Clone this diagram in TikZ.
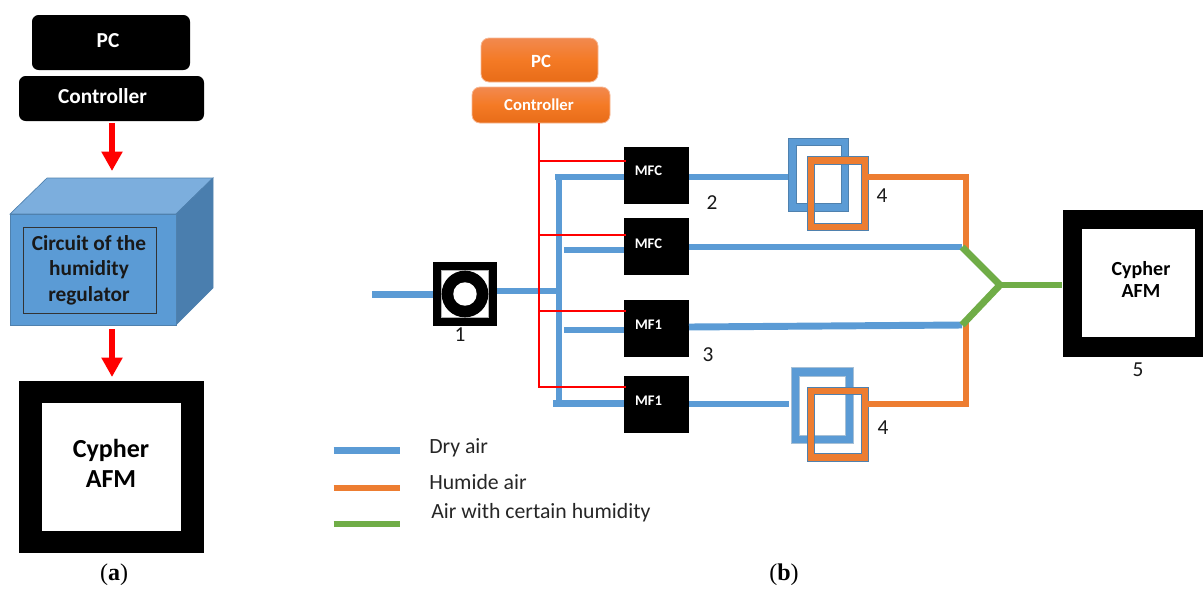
\documentclass[tikz,border=0pt]{standalone}
\usepackage{fontspec}
\setmainfont{Carlito}
\newfontfamily\capfont{Liberation Serif}
\usetikzlibrary{arrows.meta}
\definecolor{airblue}{HTML}{5B9BD5}
\definecolor{airorange}{HTML}{ED7D31}
\definecolor{airgreen}{HTML}{70AD47}
\definecolor{cubetop}{HTML}{7CAEDD}
\definecolor{cubeside}{HTML}{4A7EAE}
\definecolor{cubeedge}{HTML}{4F81AE}
\definecolor{gradtop}{HTML}{F2894F}
\definecolor{gradmid}{HTML}{F47A25}
\definecolor{gradbot}{HTML}{E86C18}
\newcommand{\fs}[2]{\fontsize{#1}{#2}\selectfont}
\tikzset{
  x=0.75pt,y=-0.75pt,
  blackbox/.style={fill=black,draw=none,rounded corners=5pt,inner sep=0pt},
  whitetext/.style={text=white,inner sep=0pt,font=\bfseries\fs{16}{19}},
  orangebox/.style={top color=gradtop,bottom color=gradbot,middle color=gradmid,draw=gradtop!60!white,line width=.6pt,rounded corners=6pt,inner sep=0pt},
  mfcbox/.style={fill=black,draw=none,inner sep=0pt,minimum width=48.75pt,minimum height=42.75pt},
  mfctext/.style={text=white,inner sep=0pt,font=\bfseries\fs{11}{13}},
  dry/.style={draw=airblue,line width=5.2pt},
  humid/.style={draw=airorange,line width=5.2pt},
  mixed/.style={draw=airgreen,line width=5.2pt},
  signal/.style={draw=red,line width=1.5pt},
  powerarrow/.style={draw=red,line width=5.2pt,-{Triangle[length=14.5pt,width=15pt]}},
  numlabel/.style={font=\fs{16}{19},text=black!90,inner sep=0pt},
  legendtext/.style={font=\fs{16.3}{19},anchor=west,inner sep=0pt,text=black!85},
  captext/.style={font=\capfont\fs{18}{21},text=black,inner sep=0pt},
}
\begin{document}
\begin{tikzpicture}
\useasboundingbox (0,0) rectangle (1203,590);
% ---------- panel (a)
\node[blackbox,minimum width=118.5pt,minimum height=41.25pt] (pca) at (111,42.5) {};
\node[whitetext] (pcat) at (108,41) {PC};
\node[blackbox,minimum width=138.75pt,minimum height=33.75pt] (ctla) at (111.5,98.5) {};
\node[whitetext] (ctlat) at (102.5,96) {Controller};
% cube
\path[fill=cubetop,draw=cubeedge,line width=.5pt] (10,214) -- (47,178) -- (213,178) -- (176,214) -- cycle;
\path[fill=cubeside,draw=cubeedge,line width=.5pt] (176,214) -- (213,178) -- (213,288) -- (176,325) -- cycle;
\node[fill=airblue,draw=cubeedge,line width=.5pt,inner sep=0pt,minimum width=124.5pt,minimum height=83.25pt] (cube) at (93,269.5) {};
\node[draw=black!80,line width=.6pt,inner sep=0pt,minimum width=99.75pt,minimum height=64.5pt] (circ) at (89.5,270) {};
\node[align=center,inner sep=0pt,font=\bfseries\fs{16}{19},text=black!90] (circt) at (89,270) {Circuit of the\\humidity\\regulator};
\node[fill=black,inner sep=0pt,minimum width=138.75pt,minimum height=129pt] (afma) at (111.5,467) {};
\node[fill=white,inner sep=0pt,minimum width=104.25pt,minimum height=96pt] (afmain) at (111.5,467) {};
\node[align=center,inner sep=0pt,font=\bfseries\fs{19.5}{22.5},text=black] (afmat) at (111,463) {Cypher\\AFM};
\coordinate (a1s) at (112,123);
\coordinate (a1e) at (112,171);
\coordinate (a2s) at (112,329);
\coordinate (a2e) at (112,377);
\draw[powerarrow] (a1s) -- (a1e);
\draw[powerarrow] (a2s) -- (a2e);
\node[captext] (capa) at (114,575) {(\textbf{a})};
% ---------- panel (b)
\node[orangebox,minimum width=87.75pt,minimum height=33pt] (pcb) at (539.5,60) {};
\node[text=white,inner sep=0pt,font=\bfseries\fs{14}{16}] (pcbt) at (541,61) {PC};
\node[orangebox,minimum width=103.5pt,minimum height=27pt] (ctlb) at (541,105) {};
\node[text=white,inner sep=0pt,font=\bfseries\fs{12.5}{15}] (ctlbt) at (539,104.5) {Controller};
\node[mfcbox] (m1) at (656.5,175.5) {};
\node[mfcbox] (m2) at (656.5,246.5) {};
\node[mfcbox] (m3) at (656.5,328) {};
\node[mfcbox] (m4) at (656.5,404.5) {};
\node[mfctext] (m1t) at (648.5,171) {MFC};
\node[mfctext] (m2t) at (648.5,244) {MFC};
\node[mfctext] (m3t) at (648.5,325) {MF1};
\node[mfctext] (m4t) at (648.5,401) {MF1};
% pump
\node[fill=black,inner sep=0pt,minimum size=48pt] (pump) at (465,294) {};
\node[fill=white,draw=black!30,line width=.3pt,inner sep=0pt,minimum size=35pt] (pumpin) at (465,294) {};
\fill[black] (pump.center) circle (17.5pt);
\fill[white] (pump.center) circle (8.8pt);
% junctions
\coordinate (in) at (372,294.5);
\coordinate (tt) at (559,174);
\coordinate (tb) at (559,407);
\coordinate (tm) at (556,291);
\coordinate (jm1) at (555,177);
\coordinate (jm2) at (564,250);
\coordinate (jm3) at (564,330);
\coordinate (jm4) at (553,403.5);
% dry air
\draw[dry] (in) -- (in -| pump.west);
\draw[dry] (pump.east |- tm) -- (tm);
\draw[dry] (tt) -- (tb);
\draw[dry] (jm1) -- (jm1 -| m1.west);
\draw[dry] (jm2) -- (jm2 -| m2.west);
\draw[dry] (jm3) -- (jm3 -| m3.west);
\draw[dry] (jm4) -- (jm4 -| m4.west);
% signal wires
\coordinate (r0) at (539,123);
\coordinate (r4) at (539,387);
\draw[signal] (r0) -- (r4) -- (r4 -| m4.west) -- ++(2,0);
\coordinate (r1) at (539,161);
\coordinate (r2) at (539,235);
\coordinate (r3) at (539,311);
\draw[signal] (r1) -- (r1 -| m1.west) -- ++(2,0);
\draw[signal] (r2) -- (r2 -| m2.west) -- ++(2,0);
\draw[signal] (r3) -- (r3 -| m3.west) -- ++(2,0);
% humidifiers
\coordinate (mr1) at (966,177);
\coordinate (mr2) at (966,404);
\coordinate (g1) at (962,247);
\coordinate (g2) at (962,325);
\coordinate (gj) at (1000,285);
% outgoing
\draw[dry] (m1.east |- mr1) -- (788,177);
\draw[dry] (m2.east |- g1) -- (g1);
\draw[dry] (689,327) -- (g2);
\draw[dry] (m4.east |- mr2) -- (789,404);
% frames
\fill[airblue,draw=cubeedge,line width=.5pt,even odd rule] (788,138) rectangle (848.5,211) (796,145) rectangle (841,203);
\fill[airorange,draw=cubeedge,line width=.5pt,even odd rule] (807.5,156) rectangle (868,230) (814.5,164) rectangle (861,223);
\fill[airblue,draw=cubeedge!50,line width=.5pt,even odd rule] (791.5,367.5) rectangle (853,443) (799,376) rectangle (845,435);
\fill[airorange,draw=cubeedge,line width=.5pt,even odd rule] (807.5,387) rectangle (868,461) (814.5,394) rectangle (861,453);
% humid and mix
\draw[humid] (868,177) -- (mr1) -- (966,250);
\draw[humid] (868,404) -- (mr2) -- (966,322);
\draw[mixed] (g1) -- (gj) -- (g2);
\node[fill=black,inner sep=0pt,minimum width=105.4pt,minimum height=110pt] (afmb) at (1133,283.3) {};
\node[fill=white,inner sep=0pt,minimum width=84.75pt,minimum height=81pt] (afmbin) at (1138,283) {};
\node[align=center,inner sep=0pt,font=\bfseries\fs{15}{17.2},text=black] (afmbt) at (1141,279.5) {Cypher\\AFM};
\draw[mixed] (gj) -- (afmb.west |- gj);
% numbers
\node[numlabel] (n1) at (460,335) {1};
\node[numlabel] (n2) at (712,203) {2};
\node[numlabel] (n3) at (708,355) {3};
\node[numlabel] (n4a) at (882,196) {4};
\node[numlabel] (n4b) at (883,428) {4};
\node[numlabel] (n5) at (1138,370) {5};
% legend
\coordinate (l1a) at (333.5,450.5); \coordinate (l1b) at (400,450.5);
\coordinate (l2a) at (333.5,488); \coordinate (l2b) at (400,488);
\coordinate (l3a) at (333.5,524); \coordinate (l3b) at (400,524);
\draw[dry] (l1a) -- (l1b);
\draw[humid] (l2a) -- (l2b);
\draw[mixed] (l3a) -- (l3b);
\node[legendtext] (t1) at (429,448) {Dry air};
\node[legendtext] (t2) at (429,482.5) {Humide air};
\node[legendtext] (t3) at (431,513) {Air with certain humidity};
\node[captext] (capb) at (784,575) {(\textbf{b})};
\end{tikzpicture}
\end{document}
